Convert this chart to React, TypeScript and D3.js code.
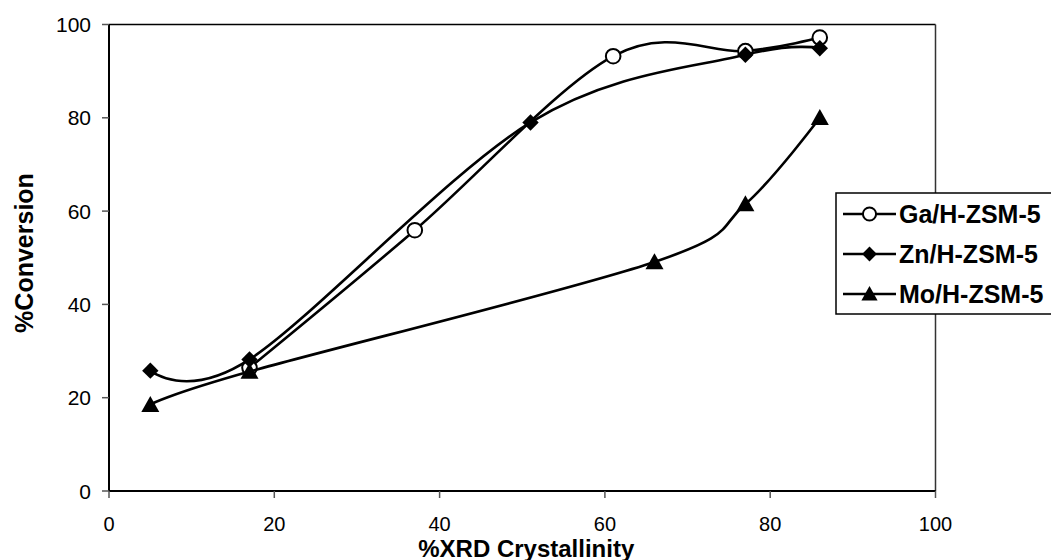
import React from "react";
import * as d3 from "d3";

const W = 1051;
const H = 560;

const xTicks = [0, 20, 40, 60, 80, 100];
const yTicks = [0, 20, 40, 60, 80, 100];

const seriesNames = ["Ga/H-ZSM-5", "Zn/H-ZSM-5", "Mo/H-ZSM-5"];
const gaX = [17, 37, 61, 77, 86];
const gaY = [26.4, 55.9, 93.2, 94.3, 97.2];
const znX = [5, 17, 51, 77, 86];
const znY = [25.8, 28.2, 79.0, 93.5, 94.9];
const moX = [5, 17, 66, 77, 86];
const moY = [18.5, 25.6, 49.1, 61.5, 80.0];

const markers = ["circle", "diamond", "triangle"];

const M = { left: 109, right: 935.5, top: 24.5, bottom: 491 };

function Marker({ type, x, y, s = 1 }: { type: string; x: number; y: number; s?: number }) {
  if (type === "circle") {
    return <circle cx={x} cy={y} r={7.3 * s} fill="#fff" stroke="#000" strokeWidth={2} />;
  }
  if (type === "diamond") {
    const r = 8.2 * s;
    return <path d={`M${x},${y - r}L${x + r},${y}L${x},${y + r}L${x - r},${y}Z`} fill="#000" />;
  }
  const w = 9 * s;
  const h = 16 * s;
  return <path d={`M${x},${y - h * 0.55}L${x + w},${y + h * 0.45}L${x - w},${y + h * 0.45}Z`} fill="#000" />;
}

export default function App() {
  const x = d3.scaleLinear().domain([0, 100]).range([M.left, M.right]);
  const y = d3.scaleLinear().domain([0, 100]).range([M.bottom, M.top]);
  const line = d3
    .line<[number, number]>()
    .x((d) => x(d[0]))
    .y((d) => y(d[1]))
    .curve(d3.curveCardinal.tension(0));

  const series = [
    { xs: gaX, ys: gaY },
    { xs: znX, ys: znY },
    { xs: moX, ys: moY },
  ];

  const font = "'Liberation Sans', Arial, sans-serif";

  return (
    <svg
      width={W}
      height={H}
      style={{ position: "absolute", left: 0, top: 0, background: "#fff" }}
      fontFamily={font}
    >
      <rect x={0} y={0} width={W} height={H} fill="#fff" />
      {/* frame */}
      <line x1={M.left} x2={M.right} y1={M.top} y2={M.top} stroke="#000" strokeWidth={1.5} />
      <line x1={M.right} x2={M.right} y1={M.top} y2={M.bottom} stroke="#333" strokeWidth={1.5} />
      {/* axes */}
      <line x1={M.left} x2={M.left} y1={M.top} y2={M.bottom} stroke="#000" strokeWidth={2} />
      <line x1={M.left} x2={M.right} y1={M.bottom} y2={M.bottom} stroke="#000" strokeWidth={2} />
      {yTicks.map((t) => (
        <g key={"y" + t}>
          <line x1={M.left - 7} x2={M.left} y1={y(t)} y2={y(t)} stroke="#555" strokeWidth={1.5} />
          <text x={91} y={y(t)} dy="0.36em" textAnchor="end" fontSize={21} fill="#000">
            {t}
          </text>
        </g>
      ))}
      {xTicks.map((t) => (
        <g key={"x" + t}>
          <line x1={x(t)} x2={x(t)} y1={M.bottom} y2={M.bottom + 7} stroke="#555" strokeWidth={1.5} />
          <text x={x(t)} y={530.5} textAnchor="middle" fontSize={20} fill="#000">
            {t}
          </text>
        </g>
      ))}
      <text x={(M.left + M.right) / 2 + 4} y={556.5} textAnchor="middle" fontSize={24} fontWeight="bold">
        %XRD Crystallinity
      </text>
      <text
        transform={`translate(33,253) rotate(-90)`}
        textAnchor="middle"
        fontSize={25}
        fontWeight="bold"
      >
        %Conversion
      </text>
      {series.map((s, i) => {
        const pts: [number, number][] = s.xs.map((v, j) => [v, s.ys[j]]);
        return (
          <g key={i}>
            <path d={line(pts) || ""} fill="none" stroke="#000" strokeWidth={2.6} />
            {pts.map((p, j) => (
              <Marker key={j} type={markers[i]} x={x(p[0])} y={y(p[1])} />
            ))}
          </g>
        );
      })}
      {/* legend */}
      <rect x={836} y={193} width={230} height={121} fill="#fff" stroke="#000" strokeWidth={1.5} />
      {seriesNames.map((n, i) => {
        const ly = 214 + i * 40;
        return (
          <g key={n}>
            <line x1={843} x2={896} y1={ly} y2={ly} stroke="#000" strokeWidth={2.6} />
            <Marker type={markers[i]} x={869.5} y={ly} s={0.9} />
            <text x={899} y={ly} dy="0.36em" fontSize={25} fontWeight="bold">
              {n}
            </text>
          </g>
        );
      })}
    </svg>
  );
}
